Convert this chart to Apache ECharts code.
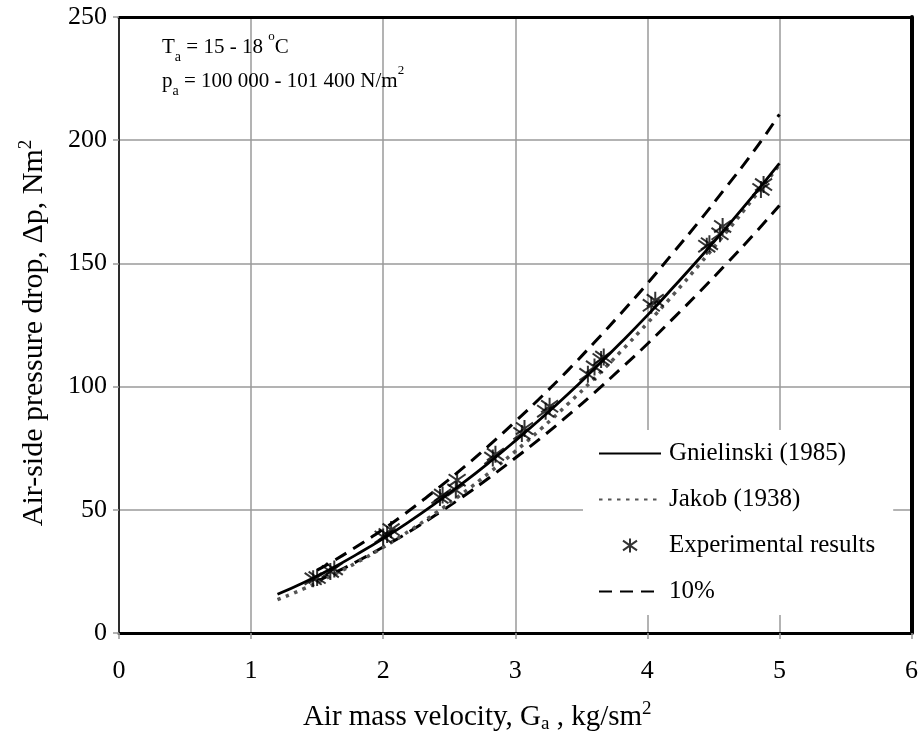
<!DOCTYPE html>
<html>
<head>
<meta charset="utf-8">
<script src="https://cdn.jsdelivr.net/npm/echarts@6/dist/echarts.min.js"></script>
<style>html,body{margin:0;padding:0;background:#fff}#c{width:921px;height:746px}</style>
</head>
<body>
<div id="c"></div>
<script>
var xTicks = [0, 1, 2, 3, 4, 5, 6];
var yTicks = [0, 50, 100, 150, 200, 250];

var gnielinski = [[1.2,15.7],[1.4,20.5],[1.6,25.9],[1.8,31.9],[2.0,38.3],[2.2,45.3],[2.4,52.8],[2.6,60.7],[2.8,69.1],[3.0,78.0],[3.2,87.3],[3.4,97.0],[3.6,107.3],[3.8,117.9],[4.0,128.9],[4.2,140.5],[4.4,152.4],[4.6,164.7],[4.8,177.4],[5.0,190.6]];
var jakob = [[1.2,13.5],[1.4,18.0],[1.6,23.0],[1.8,28.6],[2.0,34.8],[2.2,41.5],[2.4,48.8],[2.6,56.6],[2.8,64.9],[3.0,73.7],[3.2,83.1],[3.4,93.0],[3.6,103.4],[3.8,114.3],[4.0,125.7],[4.2,137.5],[4.4,149.9],[4.6,162.8],[4.8,176.2],[5.0,190.0]];
var upper10 = [[1.5,25.5],[1.6,28.5],[1.8,35.1],[2.0,42.1],[2.2,49.8],[2.4,58.1],[2.6,66.8],[2.8,76.0],[3.0,85.8],[3.2,96.0],[3.4,106.7],[3.6,118.0],[3.8,129.7],[4.0,141.8],[4.2,154.6],[4.4,167.6],[4.6,181.2],[4.8,195.1],[5.0,210.5]];
var lower10 = [[1.5,21.1],[1.6,23.6],[1.8,29.0],[2.0,34.9],[2.2,41.2],[2.4,48.0],[2.6,55.2],[2.8,62.9],[3.0,71.0],[3.2,79.4],[3.4,88.3],[3.6,97.6],[3.8,107.3],[4.0,117.3],[4.2,127.9],[4.4,138.7],[4.6,149.9],[4.8,161.4],[5.0,173.5]];
var experimental = [[1.47,22],[1.5,22.5],[1.6,25],[1.63,26],[2.0,39],[2.03,40],[2.06,42],[2.43,55],[2.45,56],[2.55,58],[2.56,62],[2.83,71],[2.85,72.5],[3.05,81],[3.07,83],[3.23,90],[3.26,92],[3.55,105],[3.6,108],[3.65,111],[3.67,112],[4.03,133],[4.06,135],[4.45,157],[4.47,158],[4.55,162],[4.57,165],[4.86,180],[4.88,182]];

var seriesNames = ['Gnielinski (1985)', 'Jakob (1938)', 'Experimental results', '10%'];
var xName = 'Air mass velocity, G';
var yName = 'Air-side pressure drop, Δp, Nm';

var FONT = '"Liberation Serif", "DejaVu Serif", serif';
var asterisk = 'path://M5,0 L5,10 M0,1.5 L10,8.5 M0,8.5 L10,1.5';

var chart = echarts.init(document.getElementById('c'), null, {renderer: 'canvas'});
var option = {
  backgroundColor: '#fff',
  animation: false,
  textStyle: {fontFamily: FONT, color: '#000'},
  grid: {left: 119, right: 9, top: 17, bottom: 113, containLabel: false},
  xAxis: [{
    type: 'value', min: 0, max: 6, interval: 1, position: 'bottom',
    axisLine: {show: true, onZero: false, lineStyle: {color: '#000', width: 3}},
    axisTick: {show: true, inside: false, length: 6, lineStyle: {color: '#999', width: 1.5}},
    axisLabel: {margin: 25, fontSize: 26, fontFamily: FONT, color: '#000', formatter: function(v){return xTicks.indexOf(v) >= 0 ? String(v) : '';}},
    splitLine: {show: true, lineStyle: {color: '#9a9a9a', width: 1.5}},
    name: '{t|' + xName + '}{sub|a}{t| , kg/sm}{sup|2}',
    nameLocation: 'middle', nameGap: 67,
    nameTextStyle: {fontFamily: FONT, fontSize: 29, color: '#000', padding: [0, 76, 0, 0], rich: {
      t: {fontFamily: FONT, fontSize: 29, color: '#000', lineHeight: 34},
      sub: {fontFamily: FONT, fontSize: 19, color: '#000', verticalAlign: 'bottom', lineHeight: 26},
      sup: {fontFamily: FONT, fontSize: 19, color: '#000', verticalAlign: 'top', lineHeight: 28}
    }}
  }, {
    type: 'value', min: 0, max: 6, interval: 1, position: 'top',
    axisLine: {show: true, onZero: false, lineStyle: {color: '#000', width: 3}},
    axisTick: {show: false}, axisLabel: {show: false}, splitLine: {show: false}
  }],
  yAxis: [{
    type: 'value', min: 0, max: 250, interval: 50, position: 'left',
    axisLine: {show: true, onZero: false, lineStyle: {color: '#000', width: 1.5}},
    axisTick: {show: true, inside: false, length: 6, lineStyle: {color: '#999', width: 1.5}},
    axisLabel: {margin: 12, fontSize: 26, fontFamily: FONT, color: '#000', formatter: function(v){return yTicks.indexOf(v) >= 0 ? String(v) : '';}},
    splitLine: {show: true, lineStyle: {color: '#9a9a9a', width: 1.5}},
    name: '{t|' + yName + '}{sup|2}',
    nameLocation: 'middle', nameGap: 68, nameRotate: 90,
    nameTextStyle: {fontFamily: FONT, fontSize: 30, color: '#000', padding: [0, 16, 0, 0], rich: {
      t: {fontFamily: FONT, fontSize: 30, color: '#000', lineHeight: 34},
      sup: {fontFamily: FONT, fontSize: 19, color: '#000', verticalAlign: 'top', lineHeight: 28}
    }}
  }, {
    type: 'value', min: 0, max: 250, interval: 50, position: 'right',
    axisLine: {show: true, onZero: false, lineStyle: {color: '#000', width: 4}},
    axisTick: {show: false}, axisLabel: {show: false}, splitLine: {show: false}
  }],
  legend: {
    orient: 'vertical', left: 583, top: 430,
    padding: [11, 18, 11, 15],
    backgroundColor: '#fff',
    itemWidth: 62, itemHeight: 14, itemGap: 21,
    data: [
      {name: seriesNames[0], itemStyle: {opacity: 0}},
      {name: seriesNames[1], itemStyle: {opacity: 0}},
      {name: seriesNames[2]},
      {name: seriesNames[3], itemStyle: {opacity: 0}}
    ],
    textStyle: {fontFamily: FONT, fontSize: 25, color: '#000', padding: [0, 0, 0, 3]}
  },
  graphic: [{
    type: 'text', left: 162, top: 30, z: 100,
    style: {
      rich: {
        t: {fontFamily: FONT, fontSize: 21, fill: '#000', lineHeight: 34},
        sub: {fontFamily: FONT, fontSize: 14, fill: '#000', verticalAlign: 'bottom', lineHeight: 26},
        sup: {fontFamily: FONT, fontSize: 13, fill: '#000', verticalAlign: 'top', lineHeight: 28}
      },
      text: '{t|T}{sub|a}{t| = 15 - 18 }{sup|o}{t|C}\n{t|p}{sub|a}{t| = 100 000 - 101 400 N/m}{sup|2}'
    }
  }],
  series: [{
    name: seriesNames[0], type: 'line', data: gnielinski, smooth: true,
    showSymbol: false, symbol: 'none', z: 4,
    lineStyle: {color: '#000', width: 2.8, type: 'solid'}, itemStyle: {color: '#000'}
  }, {
    name: seriesNames[1], type: 'line', data: jakob, smooth: true,
    showSymbol: false, symbol: 'none', z: 3,
    lineStyle: {color: '#555', width: 3.5, type: [3.5, 5.5]}, itemStyle: {color: '#555'}
  }, {
    name: seriesNames[2], type: 'scatter', data: experimental,
    symbol: asterisk, symbolSize: [17, 17], z: 5,
    itemStyle: {color: 'none', borderColor: '#000', borderWidth: 2}
  }, {
    name: seriesNames[3], type: 'line', data: upper10, smooth: true,
    showSymbol: false, symbol: 'none', z: 2,
    lineStyle: {color: '#000', width: 3, type: [13, 8]}, itemStyle: {color: '#000'}
  }, {
    name: seriesNames[3], type: 'line', data: lower10, smooth: true,
    showSymbol: false, symbol: 'none', z: 2,
    lineStyle: {color: '#000', width: 3, type: [13, 8]}, itemStyle: {color: '#000'}
  }]
};
chart.setOption(option);
</script>
</body>
</html>
